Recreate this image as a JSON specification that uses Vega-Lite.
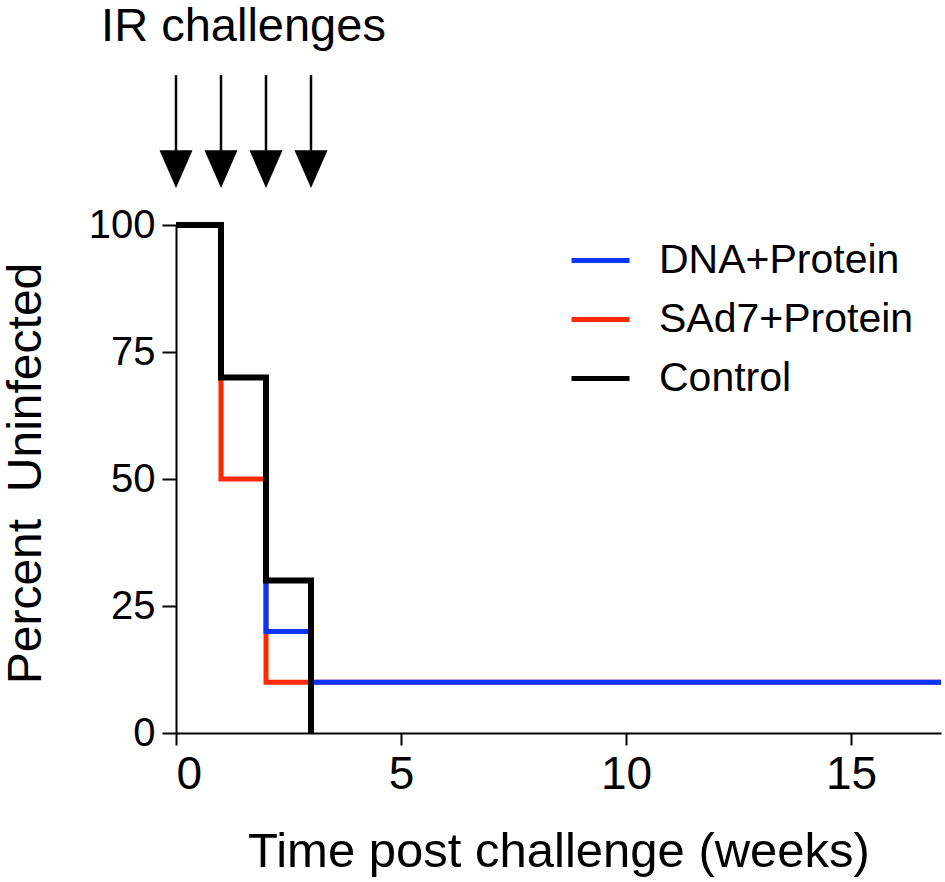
{
  "$schema": "https://vega.github.io/schema/vega-lite/v6.json",
  "autosize": "none",
  "width": 765,
  "height": 508,
  "padding": {"left": 176, "top": 225, "right": 4, "bottom": 149},
  "background": "white",
  "config": {"view": {"stroke": null}, "font": "Liberation Sans"},
  "datasets": {
    "survival": [
      {"group": "DNA+Protein", "week": 0, "pct": 100},
      {"group": "DNA+Protein", "week": 1, "pct": 70},
      {"group": "DNA+Protein", "week": 2, "pct": 20},
      {"group": "DNA+Protein", "week": 3, "pct": 10},
      {"group": "DNA+Protein", "week": 17, "pct": 10},
      {"group": "SAd7+Protein", "week": 0, "pct": 100},
      {"group": "SAd7+Protein", "week": 1, "pct": 50},
      {"group": "SAd7+Protein", "week": 2, "pct": 10},
      {"group": "SAd7+Protein", "week": 17, "pct": 10},
      {"group": "Control", "week": 0, "pct": 100},
      {"group": "Control", "week": 1, "pct": 70},
      {"group": "Control", "week": 2, "pct": 30},
      {"group": "Control", "week": 3, "pct": 0}
    ],
    "challenges": [
      {"week": 0},
      {"week": 1},
      {"week": 2},
      {"week": 3}
    ],
    "note": [
      {"week": 1.5, "label": "IR challenges"}
    ]
  },
  "layer": [
    {
      "data": {"name": "survival"},
      "transform": [{"filter": "datum.group === 'SAd7+Protein'"}],
      "mark": {"type": "line", "interpolate": "step-after", "strokeWidth": 5},
      "encoding": {
        "x": {
          "field": "week", "type": "quantitative",
          "scale": {"domain": [0, 17], "nice": false},
          "axis": {
            "values": [0, 5, 10, 15], "grid": false,
            "domainColor": "black", "domainWidth": 2,
            "tickColor": "black", "tickWidth": 2, "tickSize": 12,
            "labelFont": "Liberation Sans", "labelFontSize": 46,
            "labelColor": "black", "labelPadding": 7,
            "title": "Time post challenge (weeks)", "titleFont": "Liberation Sans",
            "titleFontSize": 49, "titleFontWeight": "normal", "titleColor": "black",
            "titlePadding": 30
          }
        },
        "y": {
          "field": "pct", "type": "quantitative",
          "scale": {"domain": [0, 100], "nice": false},
          "axis": {
            "values": [0, 25, 50, 75, 100], "grid": false,
            "domainColor": "black", "domainWidth": 2,
            "tickColor": "black", "tickWidth": 2, "tickSize": 14,
            "labelFont": "Liberation Sans", "labelFontSize": 40,
            "labelColor": "black", "labelPadding": 7,
            "title": "Percent\u00a0 Uninfected", "titleFont": "Liberation Sans",
            "titleFontSize": 48, "titleFontWeight": "normal", "titleColor": "black",
            "titlePadding": 38, "titleY": 248
          }
        },
        "color": {
          "field": "group", "type": "nominal",
          "scale": {
            "domain": ["DNA+Protein", "SAd7+Protein", "Control"],
            "range": ["#0a35ff", "#ff2a00", "#000000"]
          },
          "legend": {
            "orient": "none", "legendX": 393, "legendY": 4, "padding": 0,
            "direction": "vertical", "title": null,
            "symbolType": "stroke", "symbolSize": 3364, "symbolStrokeWidth": 5,
            "labelFont": "Liberation Sans", "labelFontSize": 41, "labelColor": "black",
            "labelOffset": 27, "labelLimit": 600, "rowPadding": 7
          }
        }
      }
    },
    {
      "data": {"name": "survival"},
      "transform": [{"filter": "datum.group === 'DNA+Protein'"}],
      "mark": {"type": "line", "interpolate": "step-after", "strokeWidth": 5},
      "encoding": {
        "x": {"field": "week", "type": "quantitative"},
        "y": {"field": "pct", "type": "quantitative"},
        "color": {"field": "group", "type": "nominal"}
      }
    },
    {
      "data": {"name": "survival"},
      "transform": [{"filter": "datum.group === 'Control'"}],
      "mark": {"type": "line", "interpolate": "step-after", "strokeWidth": 6},
      "encoding": {
        "x": {"field": "week", "type": "quantitative"},
        "y": {"field": "pct", "type": "quantitative"},
        "color": {"field": "group", "type": "nominal"}
      }
    },
    {
      "data": {"name": "challenges"},
      "mark": {"type": "rule", "color": "black", "strokeWidth": 2.5},
      "encoding": {
        "x": {"field": "week", "type": "quantitative"},
        "y": {"datum": 129.5, "type": "quantitative"},
        "y2": {"datum": 113}
      }
    },
    {
      "data": {"name": "challenges"},
      "mark": {
        "type": "point", "filled": true, "color": "black", "opacity": 1,
        "shape": "M-1,-1.15L1,-1.15L0,1.15Z", "size": 1089
      },
      "encoding": {
        "x": {"field": "week", "type": "quantitative"},
        "y": {"datum": 111, "type": "quantitative"}
      }
    },
    {
      "data": {"name": "note"},
      "mark": {
        "type": "text", "font": "Liberation Sans", "fontSize": 47,
        "align": "center", "baseline": "alphabetic", "color": "black"
      },
      "encoding": {
        "x": {"field": "week", "type": "quantitative"},
        "y": {"datum": 136.2, "type": "quantitative"},
        "text": {"field": "label"}
      }
    }
  ]
}
